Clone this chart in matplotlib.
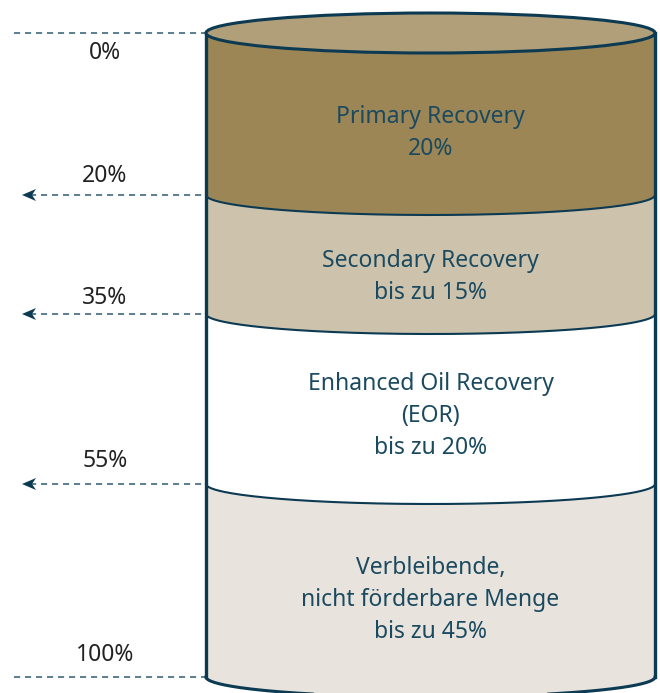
import numpy as np
import matplotlib.pyplot as plt
from matplotlib.patches import Polygon, Ellipse

plt.rcParams['font.family'] = ['Noto Sans', 'DejaVu Sans']

# ---------------------------
# DATA
# ---------------------------
segment_labels = [
    "Primary Recovery\n20%",
    "Secondary Recovery\nbis zu 15%",
    "Enhanced Oil Recovery\n(EOR)\nbis zu 20%",
    "Verbleibende,\nnicht förderbare Menge\nbis zu 45%",
]
boundary_pct = [0, 20, 35, 55, 100]
boundary_labels = [f"{p}%" for p in boundary_pct]
boundary_arrow = [False, True, True, True, False]

# ---------------------------
# LAYOUT (pixel space)
# ---------------------------
W, H = 660, 693
boundary_y = [33, 195, 314, 484, 677]
label_dy = [20, -19, -16, -23, -22]
text_y = [133, 277, 416, 600]
x_left, x_right = 206, 655
cx = (x_left + x_right) / 2
a = (x_right - x_left) / 2
b = 20

seg_colors = ["#9c8656", "#cdc3ad", "#ffffff", "#e8e4dd"]
top_color = "#b09f78"
edge = "#0c3a52"
text_col = "#1b4a60"
dash_col = "#2f5b70"

fig = plt.figure(figsize=(W / 100, H / 100), dpi=100)
ax = fig.add_axes([0, 0, 1, 1])
ax.set_xlim(0, W)
ax.set_ylim(H, 0)
ax.axis('off')

t = np.linspace(0, np.pi, 200)


def lower_arc(y0):
    return cx + a * np.cos(t), y0 + b * np.sin(t)


# bands
for i, col in enumerate(seg_colors):
    xt, yt = lower_arc(boundary_y[i])
    xb, yb = lower_arc(boundary_y[i + 1])
    pts = np.column_stack([np.r_[xt, xb[::-1]], np.r_[yt, yb[::-1]]])
    ax.add_patch(Polygon(pts, closed=True, facecolor=col, edgecolor='none', zorder=1))

# internal boundary arcs
for y0 in boundary_y[1:-1]:
    xa, ya = lower_arc(y0)
    ax.plot(xa, ya, color=edge, lw=1.5, zorder=3)

# bottom arc
xa, ya = lower_arc(boundary_y[-1])
ax.plot(xa, ya, color=edge, lw=2.2, zorder=3)

# sides
ax.plot([x_left, x_left], [boundary_y[0], boundary_y[-1]], color=edge, lw=2.4, zorder=4)
ax.plot([x_right, x_right], [boundary_y[0], boundary_y[-1]], color=edge, lw=2.4, zorder=4)

# top ellipse
ax.add_patch(Ellipse((cx, boundary_y[0]), 2 * a, 2 * b, facecolor=top_color,
                     edgecolor=edge, lw=2.2, zorder=5))

# segment texts
for lab, yc in zip(segment_labels, text_y):
    ax.text(cx, yc, lab, ha='center', va='center', color=text_col,
            fontsize=16.5, linespacing=1.46, zorder=6)

# boundary dashed lines + labels
for y0, lab, arr, dy in zip(boundary_y, boundary_labels, boundary_arrow, label_dy):
    x0 = 30 if arr else 14
    ax.plot([x0, x_left], [y0, y0], color=dash_col, lw=1.1,
            dashes=(4, 3.2), zorder=2)
    if arr:
        ax.add_patch(Polygon([(22, y0), (36, y0 - 6), (32, y0), (36, y0 + 6)],
                             closed=True, facecolor=edge, edgecolor='none', zorder=2))
    ax.text(105, y0 + dy, lab, ha='center', va='center', color="#222222",
            fontsize=16.5, zorder=6)

fig.savefig("out.png", dpi=100)
